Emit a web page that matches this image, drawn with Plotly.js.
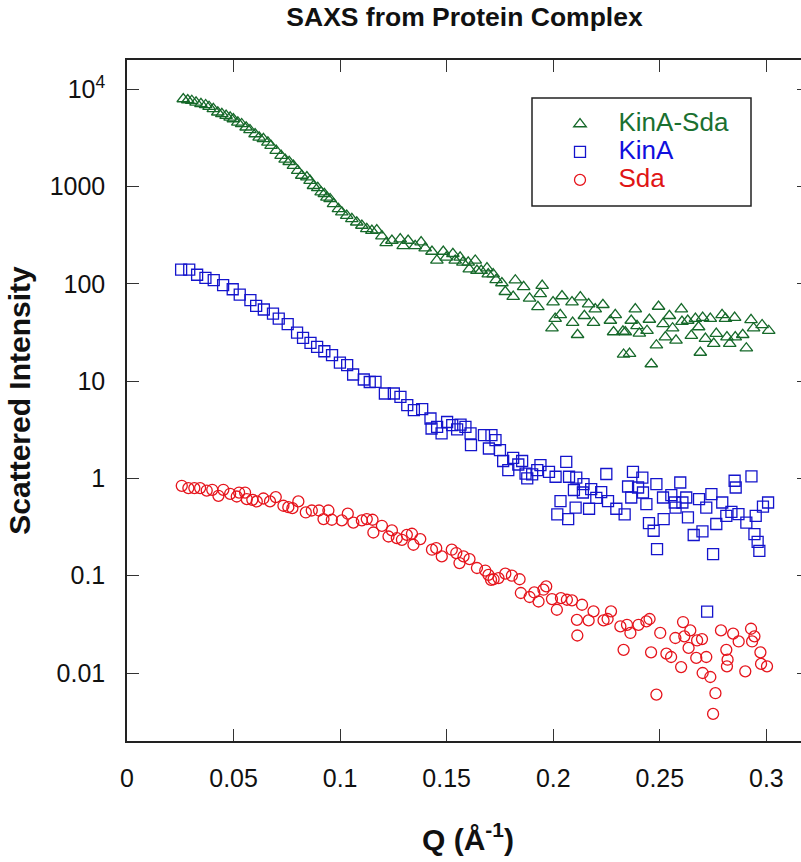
<!DOCTYPE html>
<html><head><meta charset="utf-8">
<script src="https://cdn.plot.ly/plotly-3.0.1.min.js"></script>
<style>html,body{margin:0;padding:0;overflow:hidden;background:#fff}#chart{width:809px;height:862px}</style>
</head><body><div id="chart"></div><script>
const seriesNames = ['KinA-Sda', 'KinA', 'Sda'];

const qKinASda = [0.0264,0.0285,0.0304,0.0324,0.0347,0.0369,0.0385,0.0405,0.0426,0.0445,0.0465,0.0484,0.0499,0.0520,0.0538,0.0559,0.0577,0.0601,0.0620,0.0640,0.0661,0.0676,0.0700,0.0723,0.0742,0.0761,0.0781,0.0801,0.0820,0.0844,0.0859,0.0875,0.0895,0.0911,0.0926,0.0938,0.0953,0.0969,0.0992,0.1008,0.1031,0.1055,0.1078,0.1102,0.1125,0.1149,
  0.1172,0.1196,0.1216,0.1243,0.1282,0.1296,0.1319,0.1352,0.1380,0.1399,0.1431,0.1454,0.1484,0.1498,0.1529,0.1540,0.1563,0.1576,0.1601,0.1606,0.1634,0.1642,0.1662,0.1689,0.1695,0.1718,0.1732,0.1759,0.1775,0.1812,0.1822,0.1861,0.1889,0.1928,0.1939,0.1948,0.1994,0.1999,0.2009,0.2033,0.2041,
  0.2088,0.2091,0.2114,0.2127,0.2146,0.2166,0.2189,0.2197,0.2233,0.2268,0.2283,0.2291,0.2327,0.2330,0.2338,0.2358,0.2366,0.2385,0.2393,0.2404,0.2440,0.2451,0.2460,0.2484,0.2494,0.2515,0.2526,0.2545,0.2560,0.2576,0.2601,0.2604,0.2631,0.2648,0.2667,0.2682,0.2690,0.2701,0.2714,0.2737,0.2753,0.2765,0.2792,0.2808,0.2815,0.2828,0.2851,0.2854,0.2889,0.2906,0.2928,0.2940,0.2980,0.3011];
const iKinASda = [7950,7760,7630,7350,7070,6900,6620,6290,5810,5580,5360,5150,4950,4580,4400,4070,3820,3470,3210,3090,2850,2630,2340,2080,1900,1800,1640,1460,1300,1250,1150,1020,970,875,840,775,746,663,590,545,503,465,430,398,368,353,
  357,310,264,279,288,246,279,246,269,233,215,174,215,187,204,174,187,166,166,142,174,137,137,145,126,126,110,102,83,74,109,93,71,58,79,96,35,65,44,48,75,
  65,40,30,73,47,62,40,55,61,42,32,48,32.5,18.8,32,19.2,42,55,37,31,33,43,15,23.4,58.5,38.8,28.3,47,35,26.3,55,41,42,29.4,44,36,19.7,45,27.4,44,24.3,30.8,48,44,28.3,24.3,45,28.3,30,21.8,42.7,35,37.8,33];

const qKinA = [0.0254,0.0292,0.0329,0.0368,0.0407,0.0451,0.0496,0.0529,0.0579,0.0606,0.0642,0.0685,0.0712,0.0754,0.0798,0.0826,0.0861,0.0892,0.0926,0.0962,0.0999,0.1033,0.1061,0.1111,0.1139,
  0.1166,0.1210,0.1252,0.1283,0.1315,0.1346,0.1385,0.1424,0.1429,0.1455,0.1476,0.1502,0.1526,0.1549,0.1565,0.1588,0.1612,0.1614,0.1675,0.1698,0.1710,0.1729,0.1750,0.1765,0.1789,0.1812,0.1836,0.1854,0.1870,0.1878,0.1901,0.1925,0.1940,0.1980,0.2011,0.2019,0.2034,0.2061,0.2074,0.2070,0.2097,0.2108,0.2105,
  0.2142,0.2139,0.2168,0.2178,0.2202,0.2225,0.2249,0.2257,0.2296,0.2335,0.2351,0.2366,0.2374,0.2398,0.2418,0.2421,0.2437,0.2449,0.2471,0.2484,0.2487,0.2518,0.2515,0.2554,0.2570,0.2574,0.2596,0.2606,0.2624,0.2632,0.2659,0.2684,0.2700,0.2718,0.2722,0.2742,0.2750,0.2765,0.2793,0.2812,0.2836,0.2851,0.2856,0.2869,0.2906,0.2930,0.2944,0.2950,0.2959,0.2967,0.2984,0.3008];
const iKinA = [140,140,124,115,109,97,88,77.6,68,59.4,54.5,49.5,44,38.5,31.6,27.9,24.7,22.5,20.3,18.5,15.5,14.6,11.7,10.4,9.8,
  9.85,7.46,7.46,6.9,5.67,5.03,5.15,4.13,3.26,3.39,2.9,3.8,3.53,3.2,3.58,3.39,2.9,2.2,2.79,2.03,2.79,2.48,1.95,1.51,1.22,1.63,1.39,1.51,1.12,1.0,1.1,1.22,1.37,1.17,1.04,0.427,0.585,1.48,1.04,0.382,0.76,1.02,0.50,
  0.875,0.717,0.488,0.776,0.632,0.723,1.11,0.585,0.488,0.427,0.826,0.637,1.17,0.807,1.02,0.717,0.544,0.347,0.29,0.875,0.188,0.382,0.637,0.674,0.566,0.50,0.908,0.566,0.637,0.397,0.262,0.614,0.285,0.50,0.0427,0.69,0.167,0.34,0.566,0.413,0.454,0.946,0.807,0.43,0.352,1.05,0.268,0.413,0.223,0.18,0.514,0.566];

const qSda = [0.0257,0.0288,0.0316,0.0343,0.0374,0.0400,0.0429,0.0452,0.0484,0.0515,0.0526,0.0554,0.0562,0.0588,0.0609,0.0640,0.0671,0.0698,0.0734,0.0757,0.0776,0.0804,0.0839,0.0867,0.0901,0.0922,0.0945,0.0961,0.1008,0.1036,0.1062,0.1102,0.1125,0.1152,0.1156,
  0.1196,0.1227,0.1243,0.1266,0.1290,0.1313,0.1337,0.1344,0.1376,0.1431,0.1451,0.1477,0.1524,0.1545,0.1560,0.1579,0.1607,0.1642,0.1681,0.1696,0.1708,0.1720,0.1743,0.1775,0.1806,0.1842,0.1848,0.1889,0.1911,0.1931,0.1954,0.1967,0.1994,0.2017,0.2036,0.2064,0.2088,0.2111,
  0.2113,0.2135,0.2166,0.2189,0.2236,0.2255,0.2271,0.2315,0.2330,0.2346,0.2362,0.2400,0.2437,0.2452,0.2459,0.2484,0.2502,0.2531,0.2553,0.2573,0.2600,0.2609,0.2615,0.2635,0.2643,0.2671,0.2675,0.2698,0.2701,0.2718,0.2737,0.2750,0.2761,0.2787,0.2812,0.2815,0.2818,0.2844,0.2870,0.2901,0.2928,0.2933,0.2944,0.2972,0.2975,0.3003];
const iSda = [0.84,0.795,0.795,0.795,0.751,0.764,0.663,0.764,0.695,0.652,0.716,0.716,0.612,0.603,0.58,0.622,0.58,0.643,0.524,0.507,0.495,0.58,0.447,0.468,0.468,0.382,0.468,0.376,0.37,0.434,0.352,0.37,0.382,0.376,0.278,
  0.326,0.253,0.292,0.244,0.234,0.263,0.27,0.208,0.238,0.185,0.192,0.158,0.185,0.171,0.135,0.158,0.148,0.12,0.113,0.102,0.0908,0.092,0.0946,0.105,0.1,0.092,0.0664,0.0604,0.0673,0.0543,0.0718,0.0776,0.0575,0.0447,0.0589,0.0566,0.0557,0.0352,
  0.0243,0.0503,0.0347,0.043,0.0347,0.0359,0.043,0.0301,0.0173,0.0313,0.0258,0.0313,0.0339,0.0359,0.0163,0.006,0.0258,0.0158,0.0146,0.0229,0.0115,0.0334,0.0238,0.0181,0.0274,0.0143,0.0216,0.0223,0.01,0.0146,0.0091,0.0038,0.0062,0.0274,0.0173,0.0117,0.0137,0.0254,0.0211,0.0104,0.0285,0.0211,0.0238,0.0163,0.0124,0.0117];

const xTickVals = [0, 0.05, 0.1, 0.15, 0.2, 0.25, 0.3];
const xTickText = ['0', '0.05', '0.1', '0.15', '0.2', '0.25', '0.3'];
const yTickVals = [10000, 1000, 100, 10, 1, 0.1, 0.01];
const yTickText = ['10<sup>4</sup>', '1000', '100', '10', '1', '0.1', '0.01'];

const FONT = 'Liberation Sans, Arial, Helvetica, sans-serif';
const markerColors = ['#16692a', '#1414cc', '#e6141c'];
const textColors = ['#1a7030', '#1010dd', '#e01515'];
const symbols = ['triangle-up-open', 'square-open', 'circle-open'];
const sizes = [11, 11, 11];
const xs = [qKinASda, qKinA, qSda];
const ys = [iKinASda, iKinA, iSda];

const traces = seriesNames.map((n, k) => ({
  type: 'scatter', mode: 'markers',
  x: xs[k], y: ys[k],
  name: '<span style="font-size:26px;color:' + textColors[k] + '">' + n + '</span>',
  marker: {symbol: symbols[k], size: sizes[k], color: markerColors[k], line: {width: 1.3, color: markerColors[k]}},
  hoverinfo: 'x+y'
}));

const axisCommon = {
  ticks: 'inside', ticklen: 12, tickwidth: 1.2, tickcolor: '#333',
  showline: true, linecolor: '#222', linewidth: 1.5, mirror: 'ticks',
  showgrid: false, zeroline: false,
  tickfont: {family: FONT, size: 25, color: '#111'}
};

// plot area in pixels: x 127..809, y 60..741 (used only to place the legend frame)
const PL = 127, PW = 682, PT = 60, PH = 681;
const px = v => (v - PL) / PW;
const py = v => (PT + PH - v) / PH;

const layout = {
  width: 809, height: 862,
  margin: {l: 127, r: 0, t: 60, b: 121},
  paper_bgcolor: '#fff', plot_bgcolor: '#fff',
  font: {family: FONT, color: '#111', size: 25},
  title: {text: '<b>SAXS from Protein Complex</b>', font: {family: FONT, size: 26.5, color: '#111'},
          x: 464.5 / 809, xref: 'container', xanchor: 'center', y: 1 - 17 / 862, yref: 'container', yanchor: 'middle'},
  showlegend: true,
  legend: {x: px(533.5), y: py(105), xanchor: 'left', yanchor: 'top', borderwidth: 0, bgcolor: 'rgba(0,0,0,0)',
           font: {family: FONT, size: 19.2}, itemwidth: 67, indentation: 8},
  shapes: [{type: 'rect', xref: 'paper', yref: 'paper', x0: px(532), x1: px(751), y0: py(206), y1: py(98),
            line: {color: '#222', width: 1.5}, fillcolor: '#fff', layer: 'above'}],
  xaxis: Object.assign({}, axisCommon, {
    range: [0, 0.32], tickmode: 'array', tickvals: xTickVals, ticktext: xTickText, ticklabelstandoff: 14,
    title: {text: '<b>Q (Å<sup>-1</sup>)</b>', font: {family: FONT, size: 30, color: '#111'}, standoff: 38}
  }),
  yaxis: Object.assign({}, axisCommon, {
    type: 'log', range: [Math.log10(0.002), Math.log10(20000)], tickmode: 'array', tickvals: yTickVals, ticktext: yTickText,
    ticklabelstandoff: 15,
    title: {text: '<b>Scattered Intensity</b>', font: {family: FONT, size: 30, color: '#111'}, standoff: 10}
  })
};

Plotly.newPlot('chart', traces, layout, {displayModeBar: false, responsive: false});
</script></body></html>
